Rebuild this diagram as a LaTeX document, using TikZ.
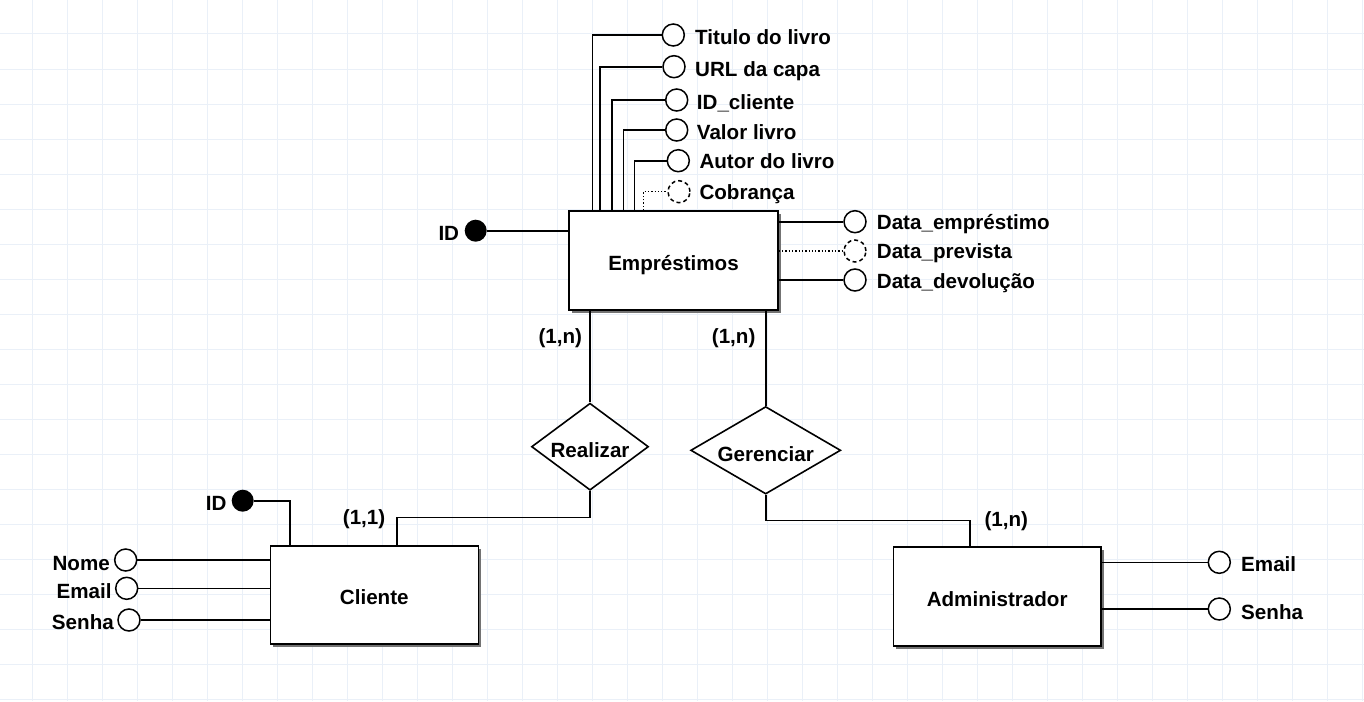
\documentclass[tikz,border=0pt]{standalone}
\usepackage{fontspec}
\setmainfont{Liberation Sans}
\usetikzlibrary{shapes.geometric,shadows}
\definecolor{gridc}{RGB}{234,240,248}
\newcommand{\erfont}{\fontsize{20.6}{24}\selectfont\bfseries}
\begin{document}
\begin{tikzpicture}[x=1pt,y=-1pt,
  gridline/.style={draw=gridc,line width=1pt},
  conn/.style={line width=1.6pt,draw=black},
  dconn/.style={line width=1.5pt,draw=black,dash pattern=on 1.3pt off 2pt},
  ent/.style={rectangle,draw,line width=1.6pt,fill=white,inner sep=0pt,
    font=\erfont,text height=20pt,text depth=0pt,
    general shadow={fill=black!55,shadow xshift=3pt,shadow yshift=-3pt}},
  rel/.style={diamond,draw,line width=1.6pt,fill=white,inner sep=0pt,
    font=\erfont,text height=22pt,text depth=0pt},
  att/.style={circle,draw,line width=1.5pt,fill=white,minimum size=22pt,inner sep=0pt},
  datt/.style={att,dash pattern=on 4pt off 3pt},
  keyatt/.style={circle,fill=black,minimum size=22pt,inner sep=0pt},
  txt/.style={inner sep=0pt,font=\erfont}
]
\useasboundingbox (0,0) rectangle (1364,701);
\fill[white] (0,0) rectangle (1364,701);
\foreach \i in {0,...,38} \draw[gridline] ({32.7+35*\i},0) -- ({32.7+35*\i},701);
\foreach \j in {0,...,19} \draw[gridline] (0,{34+35*\j}) -- (1364,{34+35*\j});

% entities
\node[ent,minimum width=209pt,minimum height=99pt] (emp) at (673.5,260.5) {Empréstimos};
\node[ent,minimum width=208pt,minimum height=98.3pt] (cli) at (374.3,594.85) {Cliente};
\node[ent,minimum width=207.7pt,minimum height=99.3pt] (adm) at (997.15,596.35) {Administrador};

% relationships
\node[rel,aspect=1.345,minimum width=117pt,minimum height=87pt] (rel1) at (590,446.7) {Realizar};
\node[rel,aspect=1.71,minimum width=150pt,minimum height=87.5pt] (rel2) at (765.7,450.3) {Gerenciar};

% top attributes of Empréstimos
\node[att] (a1) at (673.3,35) {};
\node[att] (a2) at (674,66.7) {};
\node[att] (a3) at (676.7,100) {};
\node[att] (a4) at (676.7,130) {};
\node[att] (a5) at (678.3,160.7) {};
\node[datt] (a6) at (679,191.7) {};
\draw[conn] (592.3,0 |- emp.north) |- (a1.west);
\draw[conn] (600,0 |- emp.north) |- (a2.west);
\draw[conn] (611.7,0 |- emp.north) |- (a3.west);
\draw[conn] (623.3,0 |- emp.north) |- (a4.west);
\draw[conn] (634.3,0 |- emp.north) |- (a5.west);
\draw[dconn] (643.3,0 |- emp.north) |- (a6.west);
\node[txt,anchor=base west] (t1) at (695,45) {Titulo do livro};
\node[txt,anchor=base west] (t2) at (695,76.7) {URL da capa};
\node[txt,anchor=base west] (t3) at (696.7,109.3) {ID\_cliente};
\node[txt,anchor=base west] (t4) at (696.7,139) {Valor livro};
\node[txt,anchor=base west] (t5) at (699.3,168.3) {Autor do livro};
\node[txt,anchor=base west] (t6) at (699.3,199.3) {Cobrança};

% right attributes of Empréstimos
\node[att] (r1) at (855,221.7) {};
\node[datt] (r2) at (855,251) {};
\node[att] (r3) at (855,280) {};
\draw[conn] (emp.east |- r1) -- (r1.west);
\draw[dconn] (emp.east |- r2) -- (r2.west);
\draw[conn] (emp.east |- r3) -- (r3.west);
\node[txt,anchor=base west] (u1) at (876.7,229.3) {Data\_empréstimo};
\node[txt,anchor=base west] (u2) at (876.7,258.3) {Data\_prevista};
\node[txt,anchor=base west] (u3) at (876.7,288.3) {Data\_devolução};

% key of Empréstimos
\node[keyatt] (k1) at (475.7,230.7) {};
\draw[conn] (k1.east) -- (emp.west |- k1);
\node[txt,anchor=base east] (kt1) at (459.3,240.7) {ID};

% relationship connectors
\draw[conn] (rel1.north |- emp.south) -- (rel1.north);
\draw[conn] (rel2.north |- emp.south) -- (rel2.north);
\coordinate (j1) at (396.7,517.3);
\coordinate (j2) at (970,520.5);
\draw[conn] (rel1.south) |- (j1) -- (j1 |- cli.north);
\draw[conn] (rel2.south) |- (j2) -- (j2 |- adm.north);
\node[txt,anchor=base west] (c1) at (538.3,343.6) {(1,n)};
\node[txt,anchor=base west] (c2) at (711.7,343.6) {(1,n)};
\node[txt,anchor=base west] (c3) at (342.7,524.6) {(1,1)};
\node[txt,anchor=base west] (c4) at (984.3,526) {(1,n)};

% Cliente attributes
\node[keyatt] (k2) at (242.7,500.7) {};
\draw[conn] (k2.east) -| (290,0 |- cli.north);
\node[txt,anchor=base east] (kt2) at (226.7,510.7) {ID};
\node[att] (n1) at (125.7,560) {};
\node[att] (n2) at (126.7,588.3) {};
\node[att] (n3) at (129,620) {};
\draw[conn] (n1.east) -- (cli.west |- n1);
\draw[conn] (n2.east) -- (cli.west |- n2);
\draw[conn] (n3.east) -- (cli.west |- n3);
\node[txt,anchor=base east] (nt1) at (110,570) {Nome};
\node[txt,anchor=base east] (nt2) at (111.7,598.3) {Email};
\node[txt,anchor=base east] (nt3) at (114,629) {Senha};

% Administrador attributes
\node[att] (e1) at (1219.3,562.3) {};
\node[att] (e2) at (1219.3,609) {};
\draw[conn] (adm.east |- e1) -- (e1.west);
\draw[conn] (adm.east |- e2) -- (e2.west);
\node[txt,anchor=base west] (et1) at (1241,571) {Email};
\node[txt,anchor=base west] (et2) at (1241,619) {Senha};
\end{tikzpicture}
\end{document}
